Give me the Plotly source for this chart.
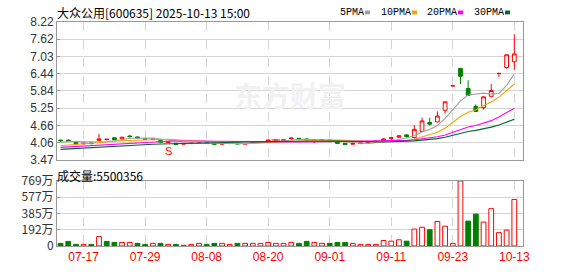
import plotly.graph_objects as go

# ---------------- data ----------------
dates = ["07-14","07-15","07-16","07-17","07-18","07-21","07-22","07-23","07-24","07-25",
         "07-28","07-29","07-30","07-31","08-01","08-04","08-05","08-06","08-07","08-08",
         "08-11","08-12","08-13","08-14","08-15","08-18","08-19","08-20","08-21","08-22",
         "08-25","08-26","08-27","08-28","08-29","09-01","09-02","09-03","09-04","09-05",
         "09-08","09-09","09-10","09-11","09-12","09-15","09-16","09-17","09-18","09-19",
         "09-22","09-23","09-24","09-25","09-26","09-29","09-30","10-09","10-10","10-13"]

# closes of the 29 sessions before the first visible one (needed for moving averages)
prior_close = [3.62,3.64,3.66,3.65,3.68,3.70,3.72,3.71,3.74,3.78,
               3.80,3.82,3.85,3.83,3.86,3.84,3.87,3.85,3.86,3.87,
               3.84,3.83,3.85,3.86,3.87,3.94,4.00,4.10,4.15]

open_ = [4.15,4.15,4.06,4.02,4.05,4.14,4.17,4.23,4.19,4.29,
         4.26,4.21,4.17,4.13,4.07,4.04,4.01,4.03,4.04,4.06,
         4.04,4.01,4.03,4.05,4.01,4.08,4.09,4.11,4.15,4.13,
         4.20,4.21,4.19,4.12,4.15,4.15,4.08,4.04,4.01,4.03,
         4.06,4.08,4.14,4.21,4.25,4.33,4.24,4.45,4.76,4.78,
         5.18,6.02,6.62,5.93,5.31,5.27,5.66,6.44,6.65,6.85]
high = [4.16,4.17,4.08,4.06,4.07,4.36,4.19,4.24,4.26,4.33,
        4.27,4.22,4.21,4.15,4.11,4.05,4.04,4.06,4.07,4.07,
        4.05,4.04,4.05,4.10,4.04,4.12,4.11,4.17,4.16,4.17,
        4.23,4.22,4.21,4.17,4.18,4.16,4.09,4.05,4.04,4.06,
        4.12,4.12,4.21,4.24,4.31,4.36,4.67,4.92,4.92,5.14,
        5.47,6.02,6.62,6.21,5.38,5.66,6.08,6.45,7.09,7.80]
low = [4.09,4.10,4.00,4.01,4.01,4.12,4.14,4.16,4.18,4.25,
       4.21,4.16,4.15,4.07,4.05,3.99,4.00,4.02,4.03,4.03,
       4.00,4.00,4.02,4.01,4.00,4.06,4.08,4.10,4.14,4.12,
       4.16,4.16,4.14,4.05,4.13,4.08,4.02,3.99,4.00,4.02,
       4.03,4.07,4.12,4.16,4.23,4.24,4.21,4.43,4.65,4.76,
       5.06,6.02,6.08,5.67,5.13,5.20,5.62,6.33,6.61,6.57]
close = [4.13,4.12,4.02,4.04,4.03,4.19,4.18,4.17,4.25,4.27,
         4.22,4.18,4.19,4.08,4.09,4.00,4.03,4.05,4.06,4.04,
         4.01,4.03,4.04,4.02,4.03,4.09,4.10,4.15,4.15,4.16,
         4.22,4.18,4.15,4.16,4.17,4.10,4.04,4.00,4.03,4.05,
         4.07,4.11,4.19,4.23,4.30,4.27,4.52,4.81,4.70,4.98,
         5.47,6.02,6.35,5.69,5.14,5.64,5.86,6.45,7.09,7.12]
# volume in 万 (10k shares)
volume = [31,54,19,19,19,111,54,42,42,42,
          31,19,31,31,19,19,8,19,31,19,
          31,31,19,31,31,31,31,42,31,31,
          42,31,54,42,31,31,42,42,31,19,
          19,19,65,57,73,57,200,222,192,290,
          234,30,769,294,377,283,441,158,188,550.0356]

price_tick_labels = ["3.47","4.06","4.66","5.25","5.84","6.44","7.03","7.62","8.22"]
vol_tick_labels = ["0","192万","385万","577万","769万"]
date_ticks = ["07-17","07-29","08-08","08-20","09-01","09-11","09-23","10-13"]
event_dates = ["08-01"]
event_text = ["S"]

ma_names = ["5PMA","10PMA","20PMA","30PMA"]
ma_periods = [5,10,20,30]
ma_colors = ["#a0a0a0","#f5a300","#ff00ff","#006633"]

RED = "#ff0000"
GREEN = "#008000"

# ---------------- derived ----------------
allc = prior_close + close
npre = len(prior_close)
def moving_avg(n):
    return [sum(allc[i + npre - n + 1:i + npre + 1]) / n for i in range(len(close))]

prev_close = [prior_close[-1]] + close[:-1]
vol_up = [c >= p for c, p in zip(close, prev_close)]
doji_flat = [(o == c and c == p) for o, c, p in zip(open_, close, prev_close)]

W, H = 578, 276
L, R, T, B = 57, 523, 20, 254
def px(x):
    return (x - L) / (R - L)
def py(y):
    return (B - y) / (B - T)

pmin, pmax = 3.47, 8.22
price_ticks = [pmin + k * (pmax - pmin) / 8 for k in range(9)]
vmax = 769.2
vol_ticks = [k * vmax / 4 for k in range(5)]

fig = go.Figure()

fig.add_trace(go.Candlestick(
    x=dates, open=open_, high=high, low=low, close=close,
    increasing=dict(line=dict(color=RED, width=1), fillcolor="white"),
    decreasing=dict(line=dict(color=GREEN, width=1), fillcolor=GREEN),
    whiskerwidth=0, xaxis="x", yaxis="y", showlegend=False, hoverinfo="skip"))

# flat doji (unchanged) drawn black
fx = [d for d, f in zip(dates, doji_flat) if f]
fy = [c for c, f in zip(close, doji_flat) if f]
if fx:
    fig.add_trace(go.Scatter(x=fx, y=fy, mode="markers",
                             marker=dict(symbol="line-ew-open", size=6,
                                         line=dict(color="black", width=1.5)),
                             xaxis="x", yaxis="y", showlegend=False, hoverinfo="skip"))

for name, n, col in zip(ma_names, ma_periods, ma_colors):
    fig.add_trace(go.Scatter(x=dates, y=moving_avg(n), mode="lines",
                             line=dict(color=col, width=1.1), name=name,
                             xaxis="x", yaxis="y", showlegend=False, hoverinfo="skip"))

fig.add_trace(go.Bar(
    x=dates, y=volume, width=0.62,
    marker=dict(color=["white" if u else GREEN for u in vol_up],
                line=dict(color=[RED if u else GREEN for u in vol_up], width=1)),
    xaxis="x2", yaxis="y2", showlegend=False, hoverinfo="skip"))

xr = [-0.46, 60.13]
common_x = dict(type="category", range=xr, showgrid=True, gridcolor="#d4d4d4",
                griddash="dash", gridwidth=1, tickvals=date_ticks, ticktext=date_ticks,
                showline=True, mirror=True, linecolor="#999999", linewidth=1,
                zeroline=False, fixedrange=True)

fig.update_layout(
    width=W, height=H,
    margin=dict(l=L, r=W - R, t=T, b=H - B),
    paper_bgcolor="white", plot_bgcolor="white",
    xaxis=dict(common_x, anchor="y", showticklabels=False, ticks="",
               rangeslider=dict(visible=False)),
    xaxis2=dict(common_x, anchor="y2", matches="x", showticklabels=True, ticks="",
                tickfont=dict(family="Liberation Sans, Arial", size=12, color=RED)),
    yaxis=dict(domain=[py(164), 1], range=[pmin, pmax], tickvals=price_ticks,
               ticktext=price_tick_labels, showgrid=True, gridcolor="#d4d4d4",
               showline=True, mirror=True, linecolor="#999999", ticks="inside",
               ticklen=3, tickcolor="#999999", zeroline=False,
               tickfont=dict(family="Liberation Sans, Arial", size=12, color="#333333")),
    yaxis2=dict(domain=[0, py(186)], range=[0, vmax], tickvals=vol_ticks,
                ticktext=vol_tick_labels, showgrid=True, gridcolor="#d4d4d4",
                showline=True, mirror=True, linecolor="#999999", ticks="inside",
                ticklen=3, tickcolor="#999999", zeroline=False,
                tickfont=dict(family="Noto Sans CJK SC, Liberation Sans", size=12, color="#333333")),
    font=dict(family="Noto Sans CJK SC, Liberation Sans", size=12, color="#000"),
)

ann = []
ann.append(dict(xref="paper", yref="paper", x=px(55), y=py(10), xanchor="left",
                yanchor="middle", showarrow=False,
                text="大众公用[600635] 2025-10-13 15:00",
                font=dict(family="Noto Sans CJK SC", size=12, color="#000")))
ann.append(dict(xref="paper", yref="paper", x=px(55), y=py(180), xanchor="left",
                yanchor="middle", showarrow=False,
                text="成交量:%d" % round(volume[-1] * 10000),
                font=dict(family="Noto Sans CJK SC", size=12, color="#000")))
# watermark
ann.append(dict(xref="paper", yref="paper", x=px(290), y=py(96), xanchor="center",
                yanchor="middle", showarrow=False, text="<b>东方财富</b>",
                font=dict(family="Noto Sans CJK SC", size=28, color="#f1f1f1")))

# MA legend
shapes = []
lx = [338, 379, 425, 472]
for x0, name, col in zip(lx, ma_names, ma_colors):
    ann.append(dict(xref="paper", yref="paper", x=px(x0), y=py(10), xanchor="left",
                    yanchor="middle", showarrow=False, text=name,
                    font=dict(family="Liberation Mono", size=10, color="#000")))
    sx = x0 + 6 * len(name) + 3
    shapes.append(dict(type="rect", xref="paper", yref="paper",
                       x0=px(sx), x1=px(sx + 5), y0=py(12), y1=py(8),
                       fillcolor=col, line=dict(width=0)))

for d, t in zip(event_dates, event_text):
    i = dates.index(d)
    ann.append(dict(xref="x", yref="y", x=d, y=low[i] - 0.27, showarrow=False,
                    text=t, font=dict(family="Liberation Sans", size=11, color=RED)))

fig.update_layout(annotations=ann, shapes=shapes)
fig.write_html("out.html")
